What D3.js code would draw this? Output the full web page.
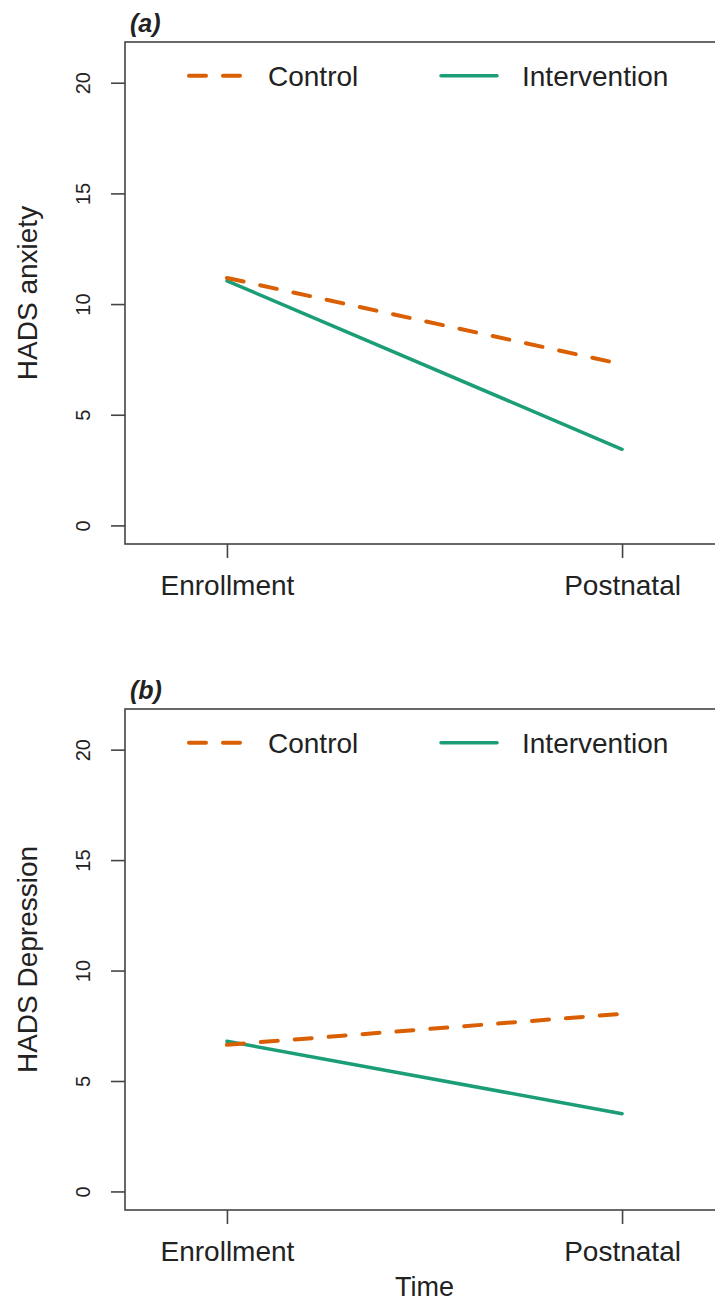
<!DOCTYPE html>
<html>
<head>
<meta charset="utf-8">
<script src="https://cdn.jsdelivr.net/npm/d3@7"></script>
<style>
  html, body { margin: 0; padding: 0; background: #fff; }
  svg { display: block; }
  text { font-family: "Liberation Sans", Arial, Helvetica, sans-serif; fill: #222; }
</style>
</head>
<body>
<svg id="chart" width="715" height="1306"></svg>
<script>
// ---- data ----
const timepoints = ["Enrollment", "Postnatal"];
const seriesNames = ["Control", "Intervention"];
const anxietyControl = [11.18, 7.28];
const anxietyIntervention = [11.05, 3.44];
const depressionControl = [6.64, 8.04];
const depressionIntervention = [6.8, 3.52];
const yTicks = [0, 5, 10, 15, 20];
const panelTags = ["(a)", "(b)"];
const yLabels = ["HADS anxiety", "HADS Depression"];
const xTitle = "Time";

const colors = { Control: "#D95F02", Intervention: "#1B9E77" };

const svg = d3.select("#chart");

const boxLeft = 125, boxRight = 724;
const x = d3.scaleLinear().domain([-0.258, 1.258]).range([boxLeft, boxRight]);

function drawPanel(top, bottom, controlVals, interventionVals, tag, ylabel, showTitle) {
  const y = d3.scaleLinear().domain([-0.84, 21.84]).range([bottom, top]);
  const g = svg.append("g");

  const line = d3.line().x((d, i) => x(i)).y(d => y(d));
  const series = [
    { name: "Control", values: controlVals, dash: "17,17", width: 4 },
    { name: "Intervention", values: interventionVals, dash: null, width: 3.5 }
  ];
  g.selectAll("path.series")
    .data([series[1], series[0]])
    .join("path")
    .attr("class", "series")
    .attr("d", d => line(d.values))
    .attr("fill", "none")
    .attr("stroke", d => colors[d.name])
    .attr("stroke-width", d => d.width)
    .attr("stroke-linecap", "round")
    .attr("stroke-dasharray", d => d.dash);

  // box
  g.append("rect")
    .attr("x", boxLeft).attr("y", top)
    .attr("width", boxRight - boxLeft).attr("height", bottom - top)
    .attr("fill", "none").attr("stroke", "#444").attr("stroke-width", 1.6);

  // y axis
  const yAxis = g.append("g")
    .attr("transform", `translate(${boxLeft},0)`)
    .call(d3.axisLeft(y).tickValues(yTicks).tickSize(14).tickFormat(d3.format("d")));
  yAxis.select(".domain").remove();
  yAxis.selectAll(".tick line").attr("stroke", "#444").attr("stroke-width", 1.6);
  yAxis.selectAll(".tick text")
    .attr("x", 0).attr("y", -35).attr("dy", null)
    .attr("transform", "rotate(-90)")
    .attr("text-anchor", "middle")
    .style("font-size", "20px")
    .style("font-family", "'Liberation Sans', Arial, sans-serif")
    .attr("fill", "#222");

  // x axis
  const xAxis = g.append("g")
    .attr("transform", `translate(0,${bottom})`)
    .call(d3.axisBottom(x).tickValues([0, 1]).tickSize(14).tickFormat(i => timepoints[i]));
  xAxis.select(".domain").remove();
  xAxis.selectAll(".tick line").attr("stroke", "#444").attr("stroke-width", 1.6);
  xAxis.selectAll(".tick text")
    .attr("y", 51).attr("dy", null)
    .style("font-size", "28px")
    .style("font-family", "'Liberation Sans', Arial, sans-serif")
    .attr("fill", "#222");

  // y label
  g.append("text")
    .attr("transform", `translate(37,${(top + bottom) / 2}) rotate(-90)`)
    .attr("text-anchor", "middle")
    .style("font-size", "28px")
    .text(ylabel);

  // tag
  g.append("text")
    .attr("x", 130).attr("y", top - 10)
    .style("font-size", "25px")
    .style("font-weight", "bold")
    .style("font-style", "italic")
    .text(tag);

  // legend
  const legY = y(20) - 7;
  const legendItems = [
    { name: "Control", x1: 189, x2: 245, tx: 268, dash: "17,17", width: 4 },
    { name: "Intervention", x1: 441, x2: 497, tx: 522, dash: null, width: 3.5 }
  ];
  const lg = g.append("g");
  lg.selectAll("line")
    .data(legendItems)
    .join("line")
    .attr("x1", d => d.x1).attr("x2", d => d.x2)
    .attr("y1", legY).attr("y2", legY)
    .attr("stroke", d => colors[d.name])
    .attr("stroke-width", d => d.width)
    .attr("stroke-linecap", "round")
    .attr("stroke-dasharray", d => d.dash);
  lg.selectAll("text")
    .data(legendItems)
    .join("text")
    .attr("x", d => d.tx).attr("y", legY + 10)
    .style("font-size", "28px")
    .text(d => d.name);

  if (showTitle) {
    g.append("text")
      .attr("x", (boxLeft + boxRight) / 2).attr("y", 1296)
      .attr("text-anchor", "middle")
      .style("font-size", "27px")
      .text(xTitle);
  }
}

drawPanel(42, 544, anxietyControl, anxietyIntervention, panelTags[0], yLabels[0], false);
drawPanel(709, 1210, depressionControl, depressionIntervention, panelTags[1], yLabels[1], true);
</script>
</body>
</html>
